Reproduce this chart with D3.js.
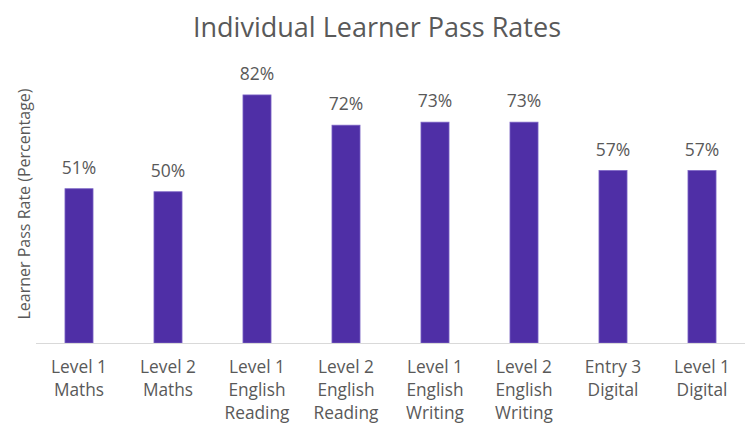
<!DOCTYPE html>
<html>
<head>
<meta charset="utf-8">
<script src="https://cdn.jsdelivr.net/npm/d3@7"></script>
<style>
  html, body { margin: 0; padding: 0; background: #fff; }
  svg { display: block; font-family: "Open Sans", "Noto Sans", sans-serif; }
</style>
</head>
<body>
<svg id="chart" width="748" height="430"></svg>
<script>
const categories = [
  "Level 1 Maths", "Level 2 Maths", "Level 1 English Reading", "Level 2 English Reading",
  "Level 1 English Writing", "Level 2 English Writing", "Entry 3 Digital", "Level 1 Digital"
];
const categoryLines = [
  ["Level 1", "Maths"], ["Level 2", "Maths"], ["Level 1", "English", "Reading"],
  ["Level 2", "English", "Reading"], ["Level 1", "English", "Writing"],
  ["Level 2", "English", "Writing"], ["Entry 3", "Digital"], ["Level 1", "Digital"]
];
const passRates = [51, 50, 82, 72, 73, 73, 57, 57];
const titleText = "Individual Learner Pass Rates";
const yAxisTitle = "Learner Pass Rate (Percentage)";

const svg = d3.select("#chart");
const textColor = "#595959";

const x = d3.scaleBand()
  .domain(categories)
  .range([34.5, 746.5])
  .paddingInner(0.685)
  .paddingOuter(0.3425);

const y = d3.scaleLinear().domain([0, 100]).range([343, 40.5]);

// title
svg.append("text")
  .attr("x", 377).attr("y", 37)
  .attr("text-anchor", "middle")
  .attr("font-size", 27)
  .attr("fill", textColor)
  .text(titleText);

// y axis title
svg.append("text")
  .attr("transform", "translate(30,204) rotate(-90)")
  .attr("text-anchor", "middle")
  .attr("font-size", 16)
  .attr("fill", textColor)
  .text(yAxisTitle);

// bars
svg.append("g").selectAll("rect")
  .data(passRates)
  .join("rect")
  .attr("x", (d, i) => x(categories[i]))
  .attr("y", d => y(d))
  .attr("width", x.bandwidth())
  .attr("height", d => y(0) - y(d))
  .attr("fill", "#4F2FA6")
  .attr("stroke", "#7A62C4")
  .attr("stroke-width", 0.8);

// baseline axis
const xAxis = d3.axisBottom(x).tickSize(0).tickFormat("");
const gx = svg.append("g").attr("transform", `translate(0,${y(0)})`).call(xAxis);
gx.select(".domain").attr("stroke", "#D9D9D9").attr("stroke-width", 1)
  .attr("d", `M36,0.5H745`);

// category labels
const labels = svg.append("g").selectAll("text")
  .data(categories)
  .join("text")
  .attr("text-anchor", "middle")
  .attr("font-size", 17.3)
  .attr("fill", textColor)
  .attr("x", d => x(d) + x.bandwidth() / 2);
labels.each(function(d, i) {
  const t = d3.select(this);
  categoryLines[i].forEach((line, j) => {
    t.append("tspan")
      .attr("x", x(d) + x.bandwidth() / 2)
      .attr("y", 373 + j * 23)
      .text(line);
  });
});

// data labels
svg.append("g").selectAll("text")
  .data(passRates)
  .join("text")
  .attr("text-anchor", "middle")
  .attr("font-size", 17.5)
  .attr("fill", textColor)
  .attr("x", (d, i) => x(categories[i]) + x.bandwidth() / 2)
  .attr("y", d => y(d) - 15)
  .text(d => d + "%");
</script>
</body>
</html>
